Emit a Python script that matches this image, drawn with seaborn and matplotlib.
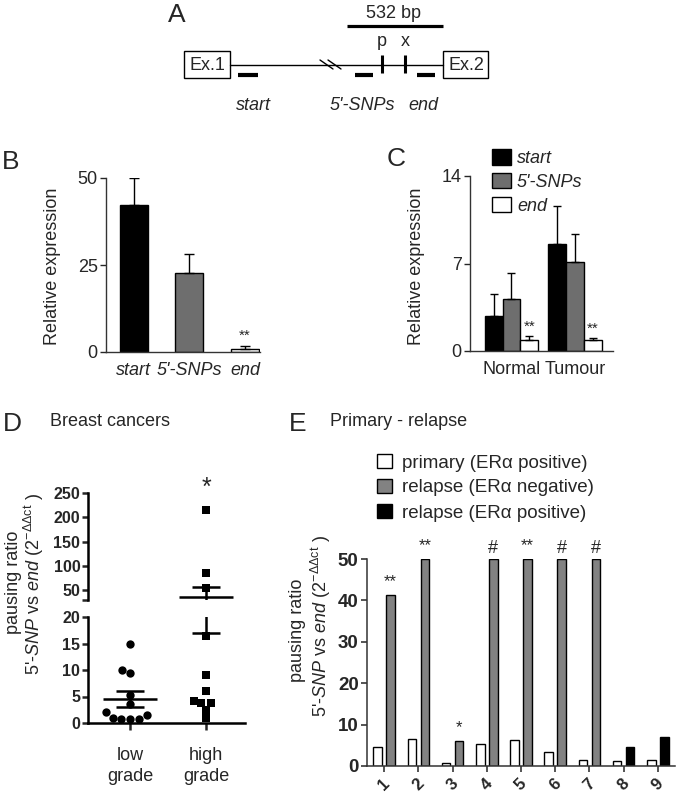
import numpy as np
import pandas as pd
import matplotlib
matplotlib.use("Agg")
import matplotlib.pyplot as plt
import seaborn as sns
from matplotlib.patches import Rectangle, Patch

# ---------------- data ----------------
B_labels = ["start", "5'-SNPs", "end"]
B_values = [42.2, 22.7, 0.8]
B_err = [7.8, 5.5, 0.8]
B_sig = ["", "", "**"]

C_groups = ["Normal", "Tumour"]
C_series = ["start", "5'-SNPs", "end"]
C_start = [2.8, 8.6]
C_start_err = [1.8, 3.0]
C_snps = [4.15, 7.1]
C_snps_err = [2.1, 2.3]
C_end = [0.85, 0.85]
C_end_err = [0.35, 0.2]
C_sig = {"end": ["**", "**"]}

D_groups = ["low\ngrade", "high\ngrade"]
D_low = [15, 10, 9.5, 5.3, 3.6, 2.0, 1.5, 0.8, 0.8, 0.8, 1.0]
D_high = [215, 85, 55, 16.5, 9, 6, 4.2, 3.7, 3.7, 2.5, 1.0]
D_sig = ["", "*"]

E_cases = ["1", "2", "3", "4", "5", "6", "7", "8", "9"]
E_primary = [4.6, 6.6, 0.7, 5.2, 6.4, 3.5, 1.4, 1.1, 1.4]
E_relapse = [41.2, 50, 6.0, 50, 50, 50, 50, 4.6, 6.9]
E_relapse_status = ["negative"] * 7 + ["positive"] * 2
E_sig = ["**", "**", "*", "#", "**", "#", "#", "", ""]
E_legend = ["primary (ER\u03b1 positive)", "relapse (ER\u03b1 negative)", "relapse (ER\u03b1 positive)"]

# ---------------- style ----------------
sns.set_style("ticks")
plt.rcParams.update({
    "font.family": ["Liberation Sans", "DejaVu Sans"],
    "mathtext.fontset": "custom",
    "mathtext.rm": "Liberation Sans",
    "mathtext.it": "Liberation Sans:italic",
    "mathtext.bf": "Liberation Sans:bold",
    "axes.linewidth": 1.0,
})

BLACK = "#000000"
GRAY = "#6e6e6e"
GRAY_E = "#828282"
WHITE = "#ffffff"
FS = 13
W, H = 680, 794

fig = plt.figure(figsize=(W / 100, H / 100), dpi=100)


def rect(l, t, r, b):
    return [l / W, 1 - b / H, (r - l) / W, (b - t) / H]


def ftext(x, y, s, **kw):
    kw.setdefault("ha", "center")
    kw.setdefault("va", "center")
    return fig.text(x / W, 1 - y / H, s, **kw)


# ---------------- panel A (schematic) ----------------
axA = fig.add_axes([0, 0, 1, 1])
axA.set_xlim(0, W)
axA.set_ylim(H, 0)
axA.set_axis_off()
axA.plot([230, 443], [65, 65], color="black", lw=1)
for x0, x1 in [(184, 230), (443, 488)]:
    axA.add_patch(Rectangle((x0, 51), x1 - x0, 27, fill=False, ec="black", lw=1))
axA.text(207, 65, "Ex.1", ha="center", va="center", fontsize=FS)
axA.text(466, 65, "Ex.2", ha="center", va="center", fontsize=FS)
axA.plot([347, 443], [26, 26], color="black", lw=2.3, solid_capstyle="butt")
axA.text(393, 13, "532 bp", ha="center", va="center", fontsize=FS)
for xx, lab in [(382, "p"), (405, "x")]:
    axA.plot([xx, xx], [55, 73], color="black", lw=2.2, solid_capstyle="butt")
    axA.text(xx, 41, lab, ha="center", va="center", fontsize=FS)
for x0, x1 in [(238, 258), (355, 373), (417, 435)]:
    axA.plot([x0, x1], [75, 75], color="black", lw=3, solid_capstyle="butt")
axA.plot([320, 333], [60, 69], color="black", lw=1)
axA.plot([328, 341], [60, 69], color="black", lw=1)
for xx, lab in [(253, "start"), (362, "5'-SNPs"), (423, "end")]:
    axA.text(xx, 105, lab, ha="center", va="center", fontsize=FS, style="italic")

# ---------------- panel B ----------------
axB = fig.add_axes(rect(106, 178, 260, 352))
dfB = pd.DataFrame({"probe": B_labels, "value": B_values})
sns.barplot(data=dfB, x="probe", y="value", hue="probe", hue_order=B_labels,
            palette=[BLACK, GRAY, WHITE], edgecolor="black", linewidth=1,
            width=0.5, errorbar=None, legend=False, ax=axB)
pB = sorted(axB.patches, key=lambda p: p.get_x())
xB = [p.get_x() + p.get_width() / 2 for p in pB]
axB.errorbar(xB, B_values, yerr=[np.zeros(len(B_values)), B_err], fmt="none",
             ecolor="black", elinewidth=1, capsize=3.6, capthick=1)
for x, v, e, s in zip(xB, B_values, B_err, B_sig):
    if s:
        axB.annotate(s, (x, v + e), xytext=(0, 2.5), textcoords="offset points",
                     ha="center", va="bottom", fontsize=11, annotation_clip=False)
axB.set_ylim(0, 50)
axB.set_xlim(-0.5, 2.27)
axB.set_yticks([0, 25, 50])
axB.set_xlabel("")
axB.set_ylabel("")
sns.despine(ax=axB)
axB.tick_params(axis="y", length=4, width=1, labelsize=FS, pad=2)
axB.tick_params(axis="x", length=0, labelsize=FS, pad=7)
for lbl in axB.get_xticklabels():
    lbl.set_style("italic")
for sp in axB.spines.values():
    sp.set_color("#333333")

# ---------------- panel C ----------------
axC = fig.add_axes(rect(470, 176, 613, 351))
dfC = pd.DataFrame({
    "group": C_groups * 3,
    "series": [s for s in C_series for _ in C_groups],
    "value": C_start + C_snps + C_end,
})
errC = [C_start_err, C_snps_err, C_end_err]
sns.barplot(data=dfC, x="group", y="value", hue="series", hue_order=C_series,
            palette=[BLACK, GRAY, WHITE], edgecolor="black", linewidth=1,
            width=0.85, errorbar=None, legend=False, ax=axC)
valsC = [C_start, C_snps, C_end]
bar_conts = list(axC.containers)[:len(C_series)]
for k, cont in enumerate(bar_conts):
    xs = [p.get_x() + p.get_width() / 2 for p in cont]
    axC.errorbar(xs, valsC[k], yerr=[np.zeros(len(xs)), errC[k]], fmt="none",
                 ecolor="black", elinewidth=1, capsize=3.2, capthick=1)
    if C_series[k] in C_sig:
        for x, v, e, s in zip(xs, valsC[k], errC[k], C_sig[C_series[k]]):
            axC.annotate(s, (x, v + e), xytext=(0, 1.5), textcoords="offset points",
                         ha="center", va="bottom", fontsize=11, annotation_clip=False)
axC.set_ylim(0, 14)
axC.set_xlim(-0.654, 1.6)
axC.set_yticks([0, 7, 14])
axC.set_xlabel("")
axC.set_ylabel("")
sns.despine(ax=axC)
axC.tick_params(axis="y", length=4, width=1, labelsize=FS, pad=2)
axC.tick_params(axis="x", length=0, labelsize=FS, pad=7)
for sp in axC.spines.values():
    sp.set_color("#333333")
hC = [Patch(facecolor=c, edgecolor="black", lw=1) for c in [BLACK, GRAY, WHITE]]
fig.legend(hC, C_series, loc="upper left", bbox_to_anchor=(483 / W, 1 - 140 / H),
           frameon=False, borderpad=0, handlelength=1.05, handleheight=0.95,
           handletextpad=0.33, labelspacing=0.32,
           prop={"style": "italic", "size": FS})

# ---------------- panel D ----------------
axDu = fig.add_axes(rect(88, 493, 245, 600))
axDl = fig.add_axes(rect(88, 617, 245, 723))
dfD = pd.DataFrame({
    "grade": [D_groups[0]] * len(D_low) + [D_groups[1]] * len(D_high),
    "ratio": D_low + D_high,
})
for ax, lim in [(axDu, (30, 250)), (axDl, (0, 20))]:
    ax.set_ylim(*lim)
    sns.swarmplot(data=dfD[dfD.grade == D_groups[0]], x="grade", y="ratio",
                  order=D_groups, marker="o", color="black", size=6, ax=ax)
    sns.swarmplot(data=dfD[dfD.grade == D_groups[1]], x="grade", y="ratio",
                  order=D_groups, marker="s", color="black", size=5.6, ax=ax)
    for i, vals in enumerate([D_low, D_high]):
        m = np.mean(vals)
        sem = np.std(vals, ddof=1) / np.sqrt(len(vals))
        ax.hlines(m, i - 0.36, i + 0.36, color="black", lw=1.8)
        ax.hlines([m - sem, m + sem], i - 0.18, i + 0.18, color="black", lw=1.8)
        ax.vlines(i, m - sem, m + sem, color="black", lw=1.8)
    ax.set_ylim(*lim)
    ax.set_xlim(-0.553, 1.513)
    ax.set_xlabel("")
    ax.set_ylabel("")
    for side in ["top", "right"]:
        ax.spines[side].set_visible(False)
    for sp in ax.spines.values():
        sp.set_linewidth(1.8)
        sp.set_color("black")
    ax.tick_params(axis="y", length=4.5, width=1.8, labelsize=11.5, pad=1)

axDu.spines["bottom"].set_visible(False)
axDu.set_yticks([50, 100, 150, 200, 250])
axDu.set_yticks([30], minor=True)
axDu.tick_params(axis="y", which="minor", length=4.5, width=1.8)
axDu.tick_params(axis="x", length=0, labelbottom=False)
for lbl in axDu.get_yticklabels():
    lbl.set_fontweight("bold")
axDl.set_yticks([0, 5, 10, 15, 20])
for lbl in axDl.get_yticklabels():
    lbl.set_fontweight("bold")
axDl.set_xticks([0, 1])
axDl.set_xticklabels(D_groups, linespacing=1.35)
axDl.tick_params(axis="x", length=5, width=1.8, labelsize=FS, pad=12)
for i, s in enumerate(D_sig):
    if s:
        axDu.annotate(s, (i, max([D_low, D_high][i])), xytext=(0, 7),
                      textcoords="offset points", ha="center", va="bottom",
                      fontsize=18, annotation_clip=False)

# ---------------- panel E ----------------
axE = fig.add_axes(rect(367, 559, 675, 766))
dfE = pd.DataFrame({
    "case": E_cases * 2,
    "ratio": E_primary + E_relapse,
    "sample": ["primary"] * len(E_cases) + ["relapse"] * len(E_cases),
})
sns.barplot(data=dfE, x="case", y="ratio", hue="sample", hue_order=["primary", "relapse"],
            palette=[WHITE, GRAY_E], width=0.76, gap=0.34, edgecolor="black",
            linewidth=1, errorbar=None, legend=False, ax=axE)
relapse_bars = list(axE.containers[1])
for patch, status in zip(relapse_bars, E_relapse_status):
    if status == "positive":
        patch.set_facecolor(BLACK)
for patch, v, s in zip(relapse_bars, E_relapse, E_sig):
    if s:
        x = patch.get_x() + patch.get_width() / 2
        off = 1.5 if s == "#" else 4.5
        fs = 13 if s == "#" else 12
        axE.annotate(s, (x, v), xytext=(0, off), textcoords="offset points",
                     ha="center", va="bottom", fontsize=fs, annotation_clip=False)
axE.set_ylim(0, 50)
axE.set_xlim(-0.5, 8.5)
axE.set_yticks([0, 10, 20, 30, 40, 50])
axE.set_xlabel("")
axE.set_ylabel("")
sns.despine(ax=axE)
for sp in axE.spines.values():
    sp.set_color("#333333")
    sp.set_linewidth(1.1)
axE.tick_params(axis="y", length=4, width=1.1, labelsize=13.5, pad=2)
axE.tick_params(axis="x", length=4, width=1.1, labelsize=12, pad=3)
for lbl in axE.get_yticklabels():
    lbl.set_fontweight("bold")
for lbl in axE.get_xticklabels():
    lbl.set_fontweight("bold")
    lbl.set_rotation(45)
hE = [Patch(facecolor=c, edgecolor="black", lw=1) for c in [WHITE, GRAY_E, BLACK]]
fig.legend(hE, E_legend, loc="upper left", bbox_to_anchor=(368 / W, 1 - 445 / H),
           frameon=False, borderpad=0, handlelength=0.8, handleheight=0.7,
           handletextpad=0.5, labelspacing=0.42, prop={"size": 13.5})

# ---------------- texts ----------------
ylab2 = r"$\mathit{5}$'-$\mathit{SNP}$ vs $\mathit{end}$ (2$^{-\mathrm{\Delta\Delta ct}}$ )"
ftext(53, 266, "Relative expression", rotation=90, fontsize=FS)
ftext(416, 266, "Relative expression", rotation=90, fontsize=FS)
ftext(13, 582, "pausing ratio", rotation=90, fontsize=FS)
ftext(34, 584, ylab2, rotation=90, fontsize=FS)
ftext(298, 630, "pausing ratio", rotation=90, fontsize=FS)
ftext(321, 626, ylab2, rotation=90, fontsize=FS)
ftext(50, 422, "Breast cancers", ha="left", fontsize=FS)
ftext(330, 422, "Primary - relapse", ha="left", fontsize=FS)

for lab, x, y in [("A", 177, 15), ("B", 11, 162), ("C", 396, 159), ("D", 12, 424), ("E", 298, 424)]:
    ftext(x, y, lab, fontsize=19)

fig.savefig("out.png", dpi=100)
